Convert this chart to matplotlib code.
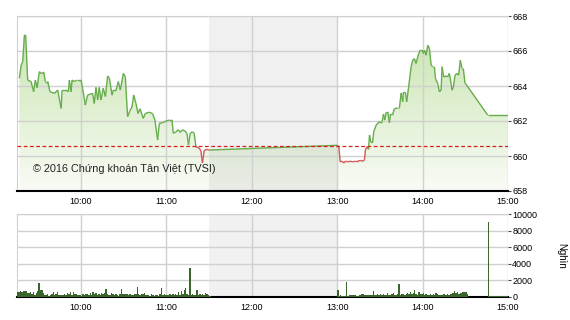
import numpy as np
import matplotlib
matplotlib.use("Agg")
import matplotlib.pyplot as plt
from matplotlib.collections import LineCollection
from matplotlib.colors import LinearSegmentedColormap

plt.rcParams['font.family'] = ['Liberation Sans', 'DejaVu Sans']

# minutes after 9:00
time_am = [16.7, 17.9, 19.0, 20.2, 21.1, 22.5, 24.9, 26.7, 27.9, 29.1,
           30.7, 32.3, 33.8, 34.9, 36.6, 38.2, 41.3, 43.6, 46.0, 46.7,
           49.5, 51.1, 51.8, 53.0, 53.7, 55.3, 56.9, 60.0, 61.1, 63.0,
           64.6, 68.1, 69.3, 70.5, 71.7, 72.8, 74.0, 75.6, 77.1, 78.7,
           79.9, 81.8, 82.7, 84.6, 86.2, 87.6, 89.7, 91.1, 92.7, 94.4,
           95.8, 97.0, 98.6, 100.0, 101.4, 103.7, 105.1, 107.9, 110.2, 111.9,
           113.8, 115.0, 117.3, 118.9, 122.0, 123.9, 124.8, 126.7, 128.3, 129.7,
           131.3, 133.0, 134.4, 135.5, 136.7, 138.3, 139.5, 140.7, 143.0, 144.2,
           145.3, 146.5, 148.1, 150.0]
price_am = [664.44, 665.2, 665.39, 666.91, 666.9, 664.34, 664.25, 663.67, 664.34, 663.9,
            664.82, 664.7, 664.8, 664.25, 664.25, 663.67, 663.58, 663.77, 662.72, 663.77,
            663.77, 663.67, 664.34, 663.67, 664.34, 664.25, 664.34, 664.34, 663.87, 662.91,
            663.48, 663.58, 663.0, 663.92, 663.2, 663.92, 663.2, 663.87, 663.4, 664.57,
            664.44, 663.48, 663.77, 663.77, 664.25, 663.77, 664.72, 664.53, 662.25, 662.6,
            662.8, 663.49, 663.0, 662.43, 662.7, 662.15, 662.43, 662.5, 662.43, 662.06,
            660.91, 661.87, 661.9, 661.97, 662.06, 662.06, 661.3, 661.38, 661.5, 661.35,
            661.5, 661.43, 661.3, 660.63, 661.3, 661.38, 661.3, 660.53, 660.45, 660.3,
            659.6, 660.3, 660.38, 660.34]

time_pm = [240, 241.1, 242.1, 243.5, 244.6, 245.8, 247.4, 249.1, 250.9, 252.8,
           254.5, 256.1, 258.0, 259.2, 259.9, 261.1, 262.0, 262.7, 263.6, 264.8,
           265.7, 267.4, 269.7, 271.6, 272.5, 273.4, 274.4, 275.5, 276.7, 277.4,
           279.0, 280.2, 282.5, 283.7, 284.9, 286.0, 286.5, 287.9, 288.8, 290.2,
           291.9, 293.1, 294.2, 295.4, 296.6, 298.2, 299.7, 300.6, 301.3, 302.5,
           303.6, 304.8, 306.0, 307.1, 308.3, 309.0, 310.6, 311.8, 313.0, 313.7,
           314.8, 316.5, 317.6, 318.8, 320.0, 320.7, 321.6, 322.8, 324.0, 325.3,
           326.5, 327.7, 328.6, 329.8, 330.5, 345.7, 360]
price_pm = [660.61, 660.53, 659.67, 659.7, 659.6, 659.7, 659.67, 659.7, 659.67, 659.7,
            659.7, 659.75, 659.7, 659.8, 660.4, 660.53, 660.38, 661.2, 660.8, 660.76,
            661.4, 661.77, 661.97, 661.97, 662.4, 662.05, 662.5, 662.5, 661.9, 662.4,
            662.4, 662.7, 662.75, 662.75, 663.6, 663.1, 663.64, 663.64, 663.1, 663.96,
            665.1, 665.48, 665.57, 665.29, 665.67, 666.05, 666.05, 665.86, 666.05, 665.76,
            666.33, 666.14, 665.2, 665.1, 665.1, 664.43, 664.15, 663.67, 663.76, 665.1,
            664.52, 664.57, 664.52, 664.72, 664.15, 663.76, 663.95, 664.62, 664.72, 664.62,
            665.48, 665.0, 665.0, 664.15, 664.1, 662.34, 662.34]

ref_price = 660.6

# volume (Nghìn), one bar per minute
vol_am_start = 15
vol_am = [550, 600, 700, 650, 750, 700, 720, 500, 450, 600,
          400, 550, 300, 450, 700, 1650, 850, 800, 500, 300,
          200, 350, 150, 300, 350, 600, 250, 350, 550, 250,
          300, 200, 300, 400, 200, 450, 350, 550, 250, 600,
          400, 350, 250, 200, 300, 150, 350, 300, 400, 350,
          200, 450, 200, 650, 350, 450, 250, 400, 300, 500,
          350, 450, 1000, 400, 250, 300, 450, 350, 300, 400,
          200, 150, 350, 950, 350, 400, 350, 400, 200, 350,
          300, 250, 400, 350, 1200, 350, 300, 400, 350, 500,
          200, 300, 200, 150, 400, 200, 150, 300, 200, 150,
          350, 1100, 250, 350, 200, 300, 250, 350, 200, 350,
          200, 400, 300, 550, 250, 700, 350, 900, 1100, 350,
          200, 3500, 250, 400, 200, 300, 800, 250, 350, 200,
          400, 250, 450, 400, 300, 150]
vol_pm_start = 240
vol_pm = [900, 150, 200, 100, 150, 100, 1800, 150, 300, 200,
          300, 250, 300, 150, 100, 200, 250, 350, 400, 300,
          200, 250, 200, 250, 200, 700, 250, 300, 350, 200,
          400, 300, 350, 200, 300, 450, 300, 250, 350, 450,
          300, 250, 350, 1600, 300, 400, 350, 250, 400, 500,
          350, 600, 350, 450, 900, 400, 300, 550, 350, 400,
          450, 300, 400, 200, 300, 350, 300, 400, 250, 450,
          350, 300, 200, 300, 400, 350, 300, 400, 300, 350,
          400, 500, 750, 500, 550, 400, 500, 450, 550, 550,
          550, 400]
vol_late_start = 346
vol_late = [9000, 150, 150, 100, 150, 100, 100, 150, 100, 150, 100, 100, 150, 100]

hour_ticks = [60, 120, 180, 240, 300, 360]
hour_labels = ['10:00', '11:00', '12:00', '13:00', '14:00', '15:00']
lunch = (150, 240)

green = '#66ad4c'
red = '#d65555'
bar_color = '#3a652c'
grid_color = '#d0d0d0'

fig = plt.figure(figsize=(5.7, 3.2), dpi=100)
ax = fig.add_axes([17 / 570, 1 - 191 / 320, 491 / 570, 175 / 320])
ax2 = fig.add_axes([17 / 570, 1 - 297 / 320, 491 / 570, 83 / 320])

t = np.array(time_am + time_pm)
p = np.array(price_am + price_pm)

# gradient fill under the price line
poly = ax.fill_between(t, p, 658, color='none', lw=0)
cmap = LinearSegmentedColormap.from_list('g', ['#f9fcf6', '#c4e2aa'])
grad = np.linspace(0, 1, 256).reshape(-1, 1)
im = ax.imshow(grad, cmap=cmap, aspect='auto', extent=[15, 360, 658, 668],
               origin='lower', zorder=1)
im.set_clip_path(poly.get_paths()[0], transform=ax.transData)

ax.axvspan(*lunch, color='black', alpha=0.058, lw=0, zorder=1.2)

pts = np.column_stack([t, p])
segs = np.stack([pts[:-1], pts[1:]], axis=1)
cols = []
for (x0, y0), (x1, y1) in segs:
    if (y0 + y1) / 2 < ref_price and x1 - x0 < 30:
        cols.append(red)
    else:
        cols.append(green)
ax.add_collection(LineCollection(segs, colors=cols, linewidths=1, zorder=3))

ax.axhline(ref_price, color='#d42020', ls=(0, (3, 2)), lw=0.9, zorder=4)

ax.text(0.033, 0.126, '© 2016 Chứng khoán Tân Việt (TVSI)', transform=ax.transAxes,
        fontsize=7.8, color='#222222', va='center', zorder=5)

ax.set_xlim(15, 360)
ax.set_ylim(658, 668)
ax.set_yticks(np.arange(658, 669, 2))

# volume bars
for start, vals in [(vol_am_start, vol_am), (vol_pm_start, vol_pm), (vol_late_start, vol_late)]:
    ax2.bar(np.arange(start, start + len(vals)), vals, width=1.0, color=bar_color,
            lw=0, align='edge', zorder=3)
ax2.axvspan(*lunch, color='#f1f1f1', lw=0, zorder=0)
ax2.set_xlim(15, 360)
ax2.set_ylim(0, 10000)
ax2.set_yticks(np.arange(0, 10001, 2000))
ax2.set_ylabel('Nghìn', rotation=270, fontsize=7, labelpad=21)
ax2.yaxis.set_label_position('right')

for a in (ax, ax2):
    a.set_xticks(hour_ticks)
    a.set_xticklabels(hour_labels)
    a.yaxis.tick_right()
    a.grid(True, color=grid_color, lw=1)
    a.set_axisbelow('line')
    a.tick_params(axis='x', length=0, pad=4, labelsize=6.5)
    a.tick_params(axis='y', length=2, pad=1, labelsize=6.5, color='#444444')
    a.spines['right'].set_visible(False)
    a.spines['top'].set_color(grid_color)
    a.spines['left'].set_color(grid_color)
    a.spines['bottom'].set_color('black')
    a.spines['bottom'].set_linewidth(1.5)

fig.savefig('out.png', dpi=100)
